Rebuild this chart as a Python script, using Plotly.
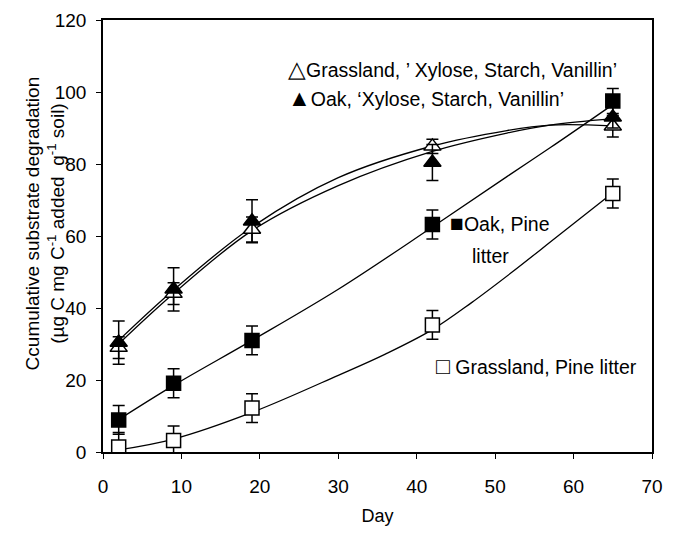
import plotly.graph_objects as go

days = [2, 9, 19, 42, 65]

grass_pine = [1.4, 3.2, 12.2, 35.3, 71.8]
grass_pine_err = [4, 4, 4, 4, 4]
oak_pine = [8.9, 19.1, 31.0, 63.2, 97.5]
oak_pine_err = [4, 4, 4, 4, 3.5]
oak_xsv = [30.4, 45.2, 64.1, 80.4, 93.0]
oak_xsv_err = [6, 6, 6, 5, 3]
grass_xsv = [29.0, 44.0, 61.8, 84.9, 90.5]
grass_xsv_err = [3, 3, 3.5, 2, 3]

gp_curve_days = [2, 9, 19, 30, 36, 42, 47, 52, 58, 65]
grass_pine_fit = [0.6, 3.6, 11.0, 21.3, 27.2, 34.0, 41.5, 49.7, 60.0, 72.0]
curve_days = [2, 9, 19, 30, 42, 51.5, 57, 65]
oak_pine_fit = [9.0, 18.5, 31.0, 45.2, 62.5, 76.5, 84.5, 96.5]
grass_xsv_fit = [31.0, 45.0, 62.5, 76.2, 85.0, 89.3, 90.8, 90.6]
oak_xsv_fit = [30.0, 44.0, 61.5, 74.0, 83.5, 88.6, 90.8, 92.6]

x_ticks = [0, 10, 20, 30, 40, 50, 60, 70]
y_ticks = [0, 20, 40, 60, 80, 100, 120]

FONT = "Arial, Liberation Sans, sans-serif"
fig = go.Figure()

for cx, fit in [(gp_curve_days, grass_pine_fit), (curve_days, oak_pine_fit),
                (curve_days, grass_xsv_fit), (curve_days, oak_xsv_fit)]:
    fig.add_trace(go.Scatter(x=cx, y=fit, mode="lines", line_shape="spline",
                             line=dict(color="black", width=1.3), showlegend=False,
                             hoverinfo="skip"))

def pts(y, err, symbol, fill, size):
    fig.add_trace(go.Scatter(
        x=days, y=y, mode="markers", showlegend=False,
        marker=dict(symbol=symbol, size=size, color=fill,
                    line=dict(color="black", width=1.5)),
        error_y=dict(type="data", array=err, color="black", thickness=1.5, width=6)))

pts(grass_xsv, grass_xsv_err, "triangle-up", "white", 15)
pts(oak_xsv, oak_xsv_err, "triangle-up", "black", 15)
pts(oak_pine, oak_pine_err, "square", "black", 14)
pts(grass_pine, grass_pine_err, "square", "white", 14)

def sym(c):
    return '<span style="font-size:23px">' + c + '</span>'

ann_font = dict(family=FONT, size=19.5, color="black")
labels = [
    (23.3, 106.5, sym("\u25b3") + "Grassland, \u2019 Xylose, Starch, Vanillin\u2019"),
    (23.3, 98.4, sym("\u25b2") + "Oak, \u2018Xylose, Starch, Vanillin\u2019"),
    (44.0, 63.5, sym("\u25a0") + "Oak, Pine"),
    (46.8, 54.5, "litter"),
    (42.2, 24.0, sym("\u25a1") + " Grassland, Pine litter"),
]
for x, y, t in labels:
    fig.add_annotation(x=x, y=y, text=t, showarrow=False, xanchor="left",
                       yanchor="middle", font=ann_font)

fig.add_annotation(
    xref="paper", yref="paper", x=-0.105, y=0.53, textangle=-90, showarrow=False,
    xanchor="center", yanchor="middle", align="center",
    text="Ccumulative substrate degradation<br>(\u00b5g C mg C<sup>-1</sup> added  g<sup>-1</sup> soil)",
    font=dict(family=FONT, size=19, color="black"))

axis_common = dict(showline=True, linecolor="black", linewidth=1.5, mirror=True,
                   ticks="outside", ticklen=5, tickcolor="black", tickwidth=1,
                   showgrid=False, zeroline=False,
                   tickfont=dict(family=FONT, size=19, color="black"))

fig.update_layout(
    width=678, height=533, plot_bgcolor="white", paper_bgcolor="white",
    margin=dict(l=103, r=26, t=10, b=79),
    xaxis=dict(range=[0, 70], tickvals=x_ticks, ticklabelstandoff=11,
               title=dict(text="Day", font=dict(family=FONT, size=18, color="black"),
                          standoff=14), **axis_common),
    yaxis=dict(range=[0, 120], tickvals=y_ticks, ticklabelstandoff=6, **axis_common),
)

fig.write_html("out.html")
